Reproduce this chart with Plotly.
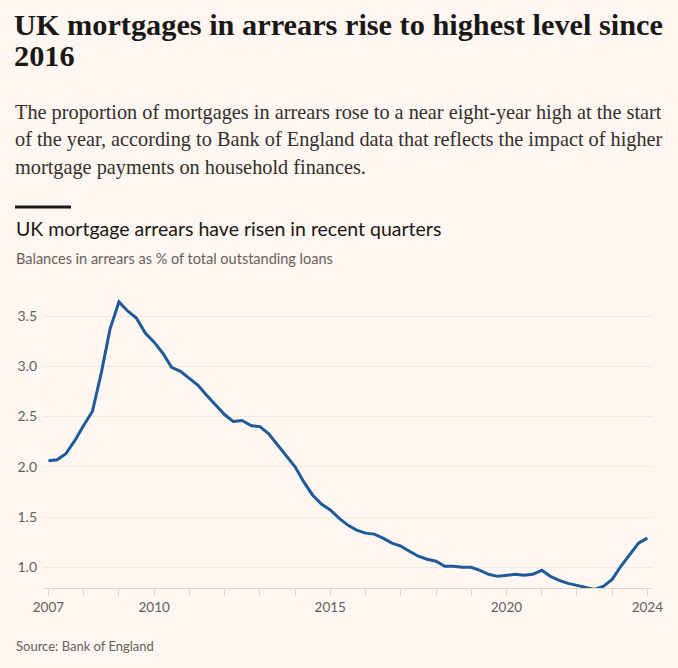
import plotly.graph_objects as go
import pandas as pd

# ---- Data (quarterly, 2007 Q1 – 2024 Q1) ----
quarter_dates = pd.date_range("2007-01-01", "2024-01-01", freq="QS")
arrears_pct = [
    2.06, 2.07, 2.13, 2.26,
    2.41, 2.55, 2.93, 3.37,
    3.64, 3.55, 3.48, 3.33,
    3.24, 3.13, 2.99, 2.95,
    2.88, 2.81, 2.71, 2.61,
    2.52, 2.45, 2.46, 2.41,
    2.40, 2.33, 2.22, 2.11,
    2.00, 1.85, 1.72, 1.63,
    1.57, 1.49, 1.42, 1.37,
    1.34, 1.33, 1.29, 1.24,
    1.21, 1.16, 1.11, 1.08,
    1.06, 1.01, 1.01, 1.00,
    1.00, 0.97, 0.93, 0.91,
    0.92, 0.93, 0.92, 0.93,
    0.97, 0.91, 0.87, 0.84,
    0.82, 0.80, 0.78, 0.81,
    0.88, 1.01, 1.13, 1.24,
    1.29,
]
x_tick_years = list(range(2007, 2025))
x_labelled_years = [2007, 2010, 2015, 2020, 2024]
x_tick_labels = [str(y) if y in x_labelled_years else "" for y in x_tick_years]
y_tick_vals = [1.0, 1.5, 2.0, 2.5, 3.0, 3.5]
y_tick_labels = ["1.0", "1.5", "2.0", "2.5", "3.0", "3.5"]

title_lines = ["UK mortgages in arrears rise to highest level since", "2016"]
body_lines = [
    "The proportion of mortgages in arrears rose to a near eight-year high at the start",
    "of the year, according to Bank of England data that reflects the impact of higher",
    "mortgage payments on household finances.",
]
chart_title = "UK mortgage arrears have risen in recent quarters"
chart_subtitle = "Balances in arrears as % of total outstanding loans"
source_text = "Source: Bank of England"

# ---- Layout geometry ----
W, H = 678, 668
L, R, T, B = 43, 26, 290, 80
PW, PH = W - L - R, H - T - B

def px(xp):
    return (xp - L) / PW

def py(yp):
    return (H - B - yp) / PH

BG = "#FEF6F0"
SANS = "Lato, 'Open Sans', sans-serif"
SERIF = "'Liberation Serif', 'DejaVu Serif', serif"

fig = go.Figure()
fig.add_trace(go.Scatter(
    x=quarter_dates, y=arrears_pct, mode="lines",
    line=dict(color="#1f5a99", width=3), hoverinfo="skip", showlegend=False,
))

def note(text, xp, yp, family, size, color):
    return dict(text=text, x=px(xp), y=py(yp), xref="paper", yref="paper",
                xanchor="left", yanchor="middle", showarrow=False,
                font=dict(family=family, size=size, color=color))

annotations = []
for i, line in enumerate(title_lines):
    annotations.append(note("<b>" + line + "</b>", 12, 25 + i * 31, SERIF, 30.3, "#1a1817"))
for i, line in enumerate(body_lines):
    annotations.append(note(line, 13, 112 + i * 27.5, SERIF, 20.3, "#33302e"))
annotations.append(note(chart_title, 14, 228, SANS, 19.5, "#1a1817"))
annotations.append(note(chart_subtitle, 14, 258, SANS, 14.5, "#66605c"))
annotations.append(note(source_text, 14, 646, SANS, 13, "#66605c"))

fig.update_layout(
    width=W, height=H, autosize=False,
    margin=dict(l=L, r=R, t=T, b=B, pad=0),
    paper_bgcolor=BG, plot_bgcolor=BG,
    annotations=annotations,
    shapes=[dict(type="rect", xref="paper", yref="paper",
                 x0=px(15), x1=px(71), y0=py(208.5), y1=py(205.5),
                 fillcolor="#1a1817", line=dict(width=0))],
    xaxis=dict(
        range=["2006-11-06", "2024-02-18"],
        tickvals=[f"{y}-01-01" for y in x_tick_years], ticktext=x_tick_labels,
        ticks="outside", ticklen=7, tickcolor="#ddd4cc", tickwidth=1,
        showline=True, linecolor="#ddd4cc", linewidth=1,
        showgrid=False, zeroline=False,
        tickfont=dict(family=SANS, size=13.5, color="#66605c"),
        fixedrange=True,
    ),
    yaxis=dict(
        range=[0.794, 3.759],
        tickvals=y_tick_vals, ticktext=y_tick_labels,
        showgrid=True, gridcolor="#f2e8e0", gridwidth=1,
        zeroline=False, showline=False, ticks="",
        ticklabelstandoff=5,
        tickfont=dict(family=SANS, size=14, color="#66605c"),
        fixedrange=True,
    ),
)

fig.write_html("out.html", config={"displayModeBar": False},
               post_script="document.body.style.margin='0';document.body.style.background='#FEF6F0';")
